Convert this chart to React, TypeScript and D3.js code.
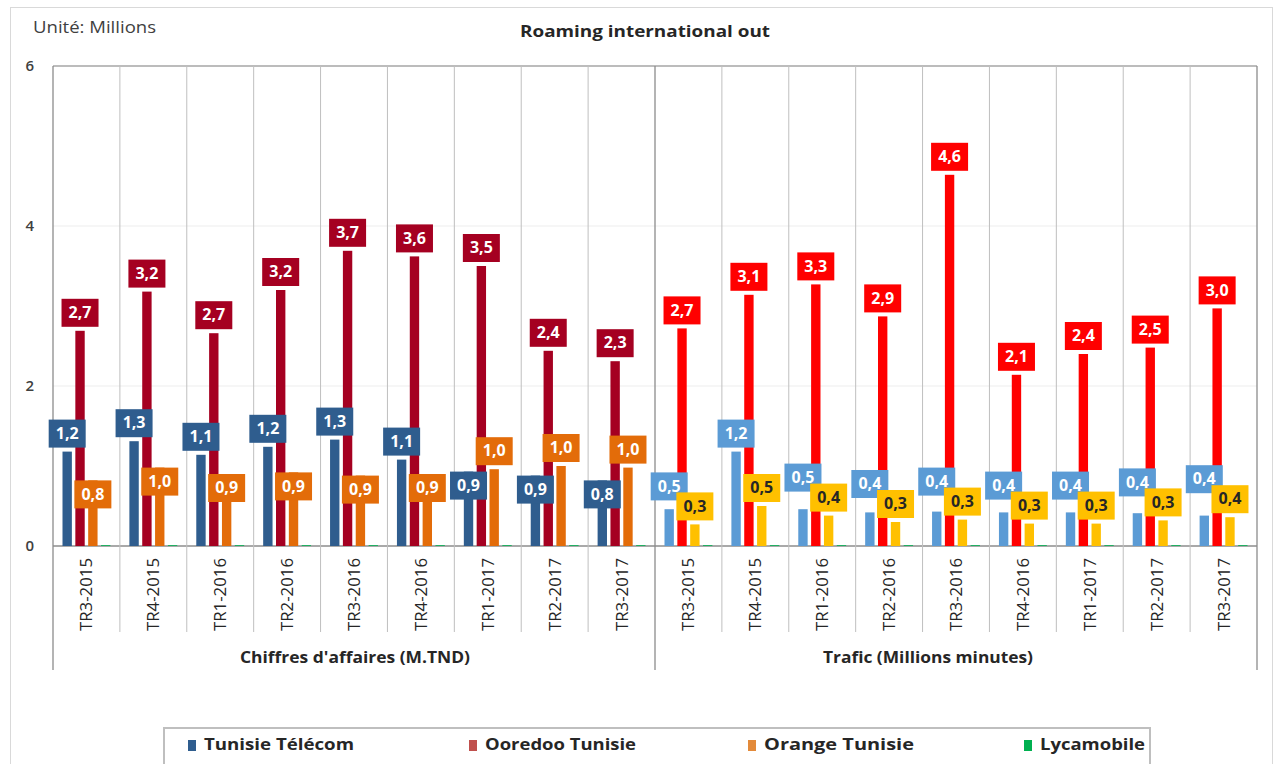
import React from "react";
import * as d3 from "d3";

// ---------- data ----------
const quarters = ["TR3-2015", "TR4-2015", "TR1-2016", "TR2-2016", "TR3-2016", "TR4-2016", "TR1-2017", "TR2-2017", "TR3-2017"];
const groupNames = ["Chiffres d'affaires (M.TND)", "Trafic (Millions minutes)"];
const seriesNames = ["Tunisie Télécom", "Ooredoo Tunisie", "Orange Tunisie", "Lycamobile"];

const caTunisieTelecom = [1.18, 1.31, 1.14, 1.24, 1.33, 1.08, 0.93, 0.88, 0.82];
const caOoredoo = [2.69, 3.18, 2.66, 3.2, 3.69, 3.62, 3.5, 2.44, 2.31];
const caOrange = [0.82, 0.98, 0.9, 0.92, 0.88, 0.9, 0.96, 1.0, 0.98];
const caLycamobile = [0.01, 0.01, 0.01, 0.01, 0.01, 0.01, 0.01, 0.01, 0.01];

const trTunisieTelecom = [0.46, 1.18, 0.46, 0.42, 0.43, 0.42, 0.42, 0.41, 0.38];
const trOoredoo = [2.72, 3.14, 3.27, 2.87, 4.64, 2.14, 2.4, 2.48, 2.97];
const trOrange = [0.27, 0.5, 0.38, 0.3, 0.33, 0.28, 0.28, 0.32, 0.36];
const trLycamobile = [0.01, 0.01, 0.01, 0.01, 0.01, 0.01, 0.01, 0.01, 0.01];

const yTicks = [0, 2, 4, 6];

// ---------- styles ----------
const caColors = ["#2F5D8E", "#A50021", "#E36C09", "#00B050"];
const trColors = ["#5B9BD5", "#FF0000", "#FFC000", "#00B050"];
const legendColors = ["#2F5D8E", "#C0504D", "#E38A3A", "#00B050"];
const FONT = "'Open Sans', 'DejaVu Sans', sans-serif";

type Row = { cat: string; key: string; group: number; idx: number; values: number[] };

export default function App() {
  const W = 1274;
  const H = 764;
  const left = 53;
  const right = 1257;
  const top = 66;
  const bottom = 546;

  const rows: Row[] = [];
  quarters.forEach((q, i) =>
    rows.push({ cat: q, key: "ca-" + q, group: 0, idx: i, values: [caTunisieTelecom[i], caOoredoo[i], caOrange[i], caLycamobile[i]] })
  );
  quarters.forEach((q, i) =>
    rows.push({ cat: q, key: "tr-" + q, group: 1, idx: i, values: [trTunisieTelecom[i], trOoredoo[i], trOrange[i], trLycamobile[i]] })
  );

  const x0 = d3.scaleBand<string>().domain(rows.map((r) => r.key)).range([left, right]).padding(0);
  const bw = x0.bandwidth();
  const x1 = d3.scaleBand<number>().domain([0, 1, 2, 3]).range([9.5, bw - 9.5]).paddingInner(0.27).paddingOuter(0);
  const y = d3.scaleLinear().domain([0, 6]).range([bottom, top]);

  const fmt = (v: number) => d3.format(".1f")(v).replace(".", ",");

  const boxW = 37;
  const boxH = 28;

  const labels: { x: number; y: number; text: string; fill: string; color: string; k: string }[] = [];
  rows.forEach((r) => {
    const colors = r.group === 0 ? caColors : trColors;
    const cx = (s: number) => (x0(r.key) as number) + (x1(s) as number) + x1.bandwidth() / 2;
    const vy = (s: number) => y(r.values[s]);
    const cy: number[] = [0, 0, 0];
    cy[1] = vy(1) - 18;
    if (r.group === 0) {
      if (r.values[0] >= r.values[2]) {
        cy[0] = vy(0) - 18;
        cy[2] = vy(2) + 14;
      } else {
        cy[2] = vy(2) - 18;
        cy[0] = vy(0) + 14;
      }
    } else {
      cy[2] = vy(2) - 18;
      cy[0] = Math.min(vy(0) - 18, cy[2] - 20);
    }
    [0, 1, 2].forEach((s) => {
      labels.push({
        x: cx(s),
        y: cy[s],
        text: fmt(r.values[s]),
        fill: colors[s],
        color: r.group === 1 && s === 2 ? "#262626" : "#FFFFFF",
        k: r.key + "-" + s,
      });
    });
  });

  const legendX = [188, 469, 748, 1024];
  const legendLen = [150, 151, 150, 105];
  const groupCenters = [355, 928];
  const groupLen = [230, 210];

  return (
    <div style={{ position: "absolute", left: 0, top: 0, width: W, height: H, background: "#fff" }}>
      <svg width={W} height={H} style={{ display: "block" }} fontFamily={FONT}>
        <rect x={0} y={0} width={W} height={H} fill="#FFFFFF" />
        <rect x={10.5} y={7.5} width={1262} height={770} fill="none" stroke="#D9D9D9" strokeWidth={1} />

        <text x={33} y={29} fontSize={16} fill="#404040" dominantBaseline="middle" textLength={123} lengthAdjust="spacingAndGlyphs">
          Unité: Millions
        </text>
        <text x={520} y={33} fontSize={16.5} fontWeight={700} fill="#262626" dominantBaseline="middle" textLength={250} lengthAdjust="spacingAndGlyphs">
          Roaming international out
        </text>

        {/* horizontal gridlines */}
        {yTicks.map((t) => (
          <line key={"g" + t} x1={left} x2={right} y1={y(t)} y2={y(t)}
            stroke={t === 0 ? "#8C8C8C" : t === 6 ? "#A6A6A6" : "#EDEDED"} strokeWidth={t === 0 || t === 6 ? 1.5 : 1} />
        ))}
        {yTicks.map((t) => (
          <text key={"t" + t} x={34} y={y(t) + 1} fontSize={15} fontWeight={600} fill="#404040" textAnchor="end" dominantBaseline="middle">
            {t}
          </text>
        ))}

        {/* vertical category separators */}
        {rows.map((r, i) => {
          if (i === 0) return null;
          const xx = x0(r.key) as number;
          const long = i === quarters.length;
          return <line key={"v" + r.key} x1={xx} x2={xx} y1={top} y2={long ? 670 : 632} stroke={long ? "#8C8C8C" : "#BFBFBF"} strokeWidth={long ? 1.3 : 1} />;
        })}
        <line x1={left} x2={left} y1={top} y2={670} stroke="#8C8C8C" strokeWidth={1.3} />
        <line x1={right} x2={right} y1={top} y2={670} stroke="#8C8C8C" strokeWidth={1.3} />

        {/* bars */}
        {rows.map((r) =>
          r.values.map((v, s) => (
            <rect key={r.key + "b" + s}
              x={(x0(r.key) as number) + (x1(s) as number)}
              y={y(v)}
              width={x1.bandwidth()}
              height={bottom - y(v)}
              fill={(r.group === 0 ? caColors : trColors)[s]} />
          ))
        )}

        {/* data labels */}
        {labels.map((l) => (
          <g key={l.k}>
            <rect x={l.x - boxW / 2} y={l.y - boxH / 2} width={boxW} height={boxH} fill={l.fill} />
            <text x={l.x} y={l.y + 1} fontSize={16} fontWeight={700} fill={l.color} textAnchor="middle" dominantBaseline="middle">
              {l.text}
            </text>
          </g>
        ))}

        {/* x axis labels */}
        {rows.map((r) => (
          <text key={"xl" + r.key} fontSize={16} fill="#262626" textAnchor="end" dominantBaseline="central"
            textLength={73} lengthAdjust="spacingAndGlyphs"
            transform={`translate(${(x0(r.key) as number) + bw / 2},${558}) rotate(-90)`}>
            {r.cat}
          </text>
        ))}

        {/* group labels */}
        {groupNames.map((g, gi) => (
          <text key={g} x={groupCenters[gi] - groupLen[gi] / 2} y={659} fontSize={16} fontWeight={700} fill="#262626" dominantBaseline="middle"
            textLength={groupLen[gi]} lengthAdjust="spacingAndGlyphs">
            {g}
          </text>
        ))}

        {/* legend */}
        <rect x={164} y={728} width={986} height={40} fill="#FFFFFF" stroke="#BFBFBF" strokeWidth={2} />
        {seriesNames.map((n, i) => (
          <g key={n}>
            <rect x={legendX[i]} y={740} width={8} height={11} fill={legendColors[i]} />
            <text x={legendX[i] + 16} y={746} fontSize={16.5} fontWeight={700} fill="#262626" dominantBaseline="middle"
              textLength={legendLen[i]} lengthAdjust="spacingAndGlyphs">
              {n}
            </text>
          </g>
        ))}
      </svg>
    </div>
  );
}
